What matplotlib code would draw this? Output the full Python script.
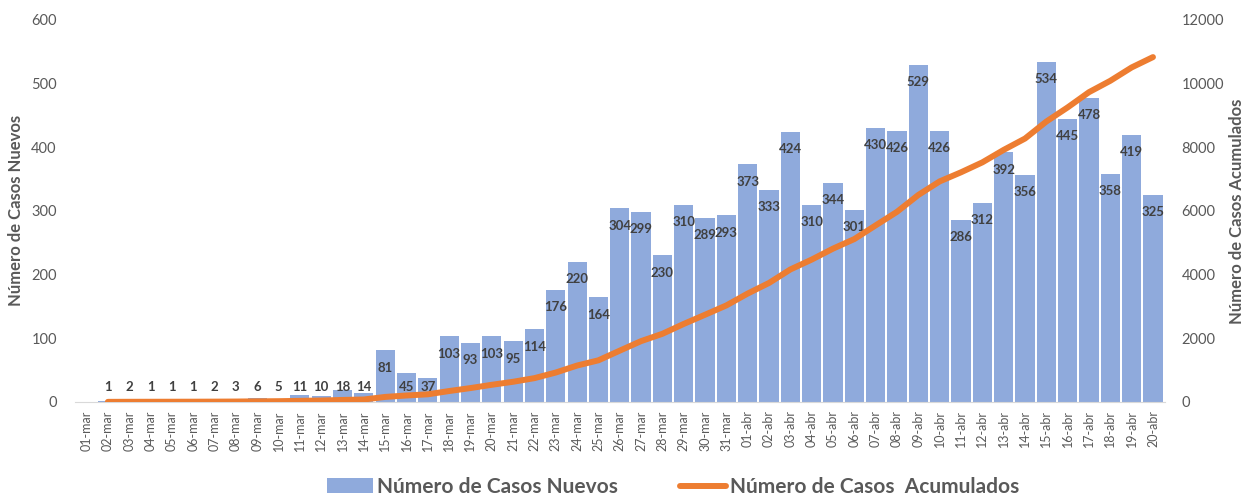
import matplotlib
matplotlib.use("Agg")
import matplotlib.pyplot as plt
import numpy as np

plt.rcParams['font.family'] = ['Lato', 'DejaVu Sans']

# datos
fechas = (["%02d-mar" % d for d in range(1, 32)] +
          ["%02d-abr" % d for d in range(1, 21)])
nuevos = [0, 1, 2, 1, 1, 1, 2, 3, 6, 5,
          11, 10, 18, 14, 81, 45, 37, 103, 93, 103,
          95, 114, 176, 220, 164, 304, 299, 230, 310, 289,
          293, 373, 333, 424, 310, 344, 301, 430, 426, 529,
          426, 286, 312, 392, 356, 534, 445, 478, 358, 419, 325]
acumulados = [np.nan, 1, 3, 4, 5, 6, 8, 11, 17, 22,
              33, 43, 61, 75, 156, 201, 238, 341, 434, 537,
              632, 746, 922, 1142, 1306, 1610, 1909, 2139, 2449, 2738,
              3031, 3404, 3737, 4161, 4471, 4815, 5116, 5546, 5972, 6501,
              6927, 7213, 7525, 7917, 8273, 8807, 9252, 9730, 10088, 10507, 10832]

gris = '#595959'
azul = '#8faadc'
naranja = '#ed7d31'

fig = plt.figure(figsize=(12.47, 4.98), dpi=100)
ax = fig.add_axes([0.060, 0.193, 0.874, 0.767])
ax2 = ax.twinx()

x = np.arange(len(fechas))
barras = ax.bar(x, nuevos, width=0.9, color=azul, zorder=2,
                label='Número de Casos Nuevos')
linea, = ax2.plot(x, acumulados, color=naranja, lw=4.3,
                  solid_capstyle='round', solid_joinstyle='round',
                  label='Número de Casos  Acumulados')

# etiquetas de datos
for xi, v in zip(x, nuevos):
    if v == 0:
        continue
    ax.text(xi, max(v - 27, 24), str(v), ha='center', va='center',
            fontsize=9.5, fontweight='bold', color='#404040', zorder=5)

ax.set_xlim(-0.55, len(fechas) - 0.45)
ax.set_ylim(0, 600)
ax.set_yticks(np.arange(0, 601, 100))
ax2.set_ylim(0, 12000)
ax2.set_yticks(np.arange(0, 12001, 2000))
ax.set_xticks(x)
ax.set_xticklabels(fechas, rotation=90, fontsize=9, color=gris)

for a in (ax, ax2):
    for s in a.spines.values():
        s.set_visible(False)
    a.tick_params(length=0, labelsize=10.5, labelcolor=gris)
ax.spines['bottom'].set_visible(True)
ax.spines['bottom'].set_color('#d9d9d9')
ax.tick_params(axis='x', labelsize=9, pad=6)
ax.tick_params(axis='y', pad=13)
ax2.tick_params(axis='y', pad=12)
ax.set_zorder(ax2.get_zorder() - 1)
ax2.patch.set_visible(False)
ax.patch.set_visible(False)

ax.set_ylabel('Número de Casos Nuevos', fontsize=12, fontweight='bold',
              color=gris, labelpad=5)
ax2.set_ylabel('Número de Casos Acumulados', fontsize=12, fontweight='bold',
               color=gris, labelpad=4)

fig.legend(handles=[barras, linea], loc='center', bbox_to_anchor=(0.54, 0.022),
           ncol=2, frameon=False, labelcolor=gris,
           prop={'weight': 'bold', 'size': 15}, handlelength=2.2,
           handletextpad=0.2, columnspacing=3.0)

fig.savefig('out.png', dpi=100)
